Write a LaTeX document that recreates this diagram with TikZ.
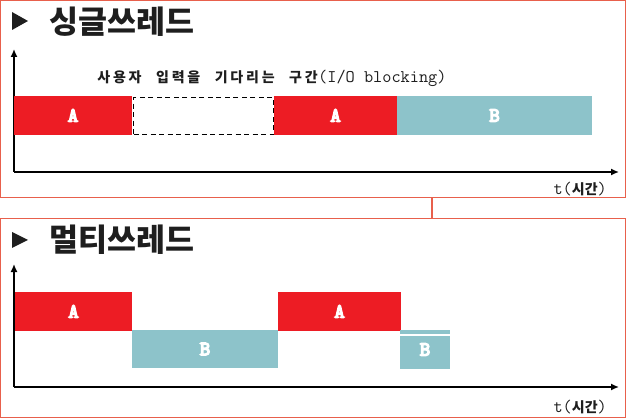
\documentclass[tikz,border=0pt]{standalone}
\usepackage{fontspec}
\usetikzlibrary{arrows.meta}
\newfontfamily\kr{Noto Sans CJK KR}
\newfontfamily\krsp{Noto Sans CJK KR}[LetterSpace=20]
\newfontfamily\courb{Latin Modern Mono}[FakeBold=7]
\definecolor{barred}{HTML}{ED1C24}
\definecolor{barteal}{HTML}{8DC3CA}
\definecolor{framec}{HTML}{E8604C}
\definecolor{ink}{HTML}{1E1E1E}
\tikzset{
  panel/.style={draw=framec, line width=1.4pt, inner sep=0, outer sep=0, anchor=north west},
  bar/.style={inner sep=0, outer sep=0, anchor=north west, text=white, font=\courb\fontsize{20}{20}\selectfont},
  axisline/.style={draw=black, line width=1.5pt, -{Latex[length=8pt,width=7pt]}},
  tri/.style={fill=ink},
  title/.style={anchor=west, inner sep=0, text=ink, font=\kr\bfseries\fontsize{31.5}{31.5}\selectfont},
  tlabel/.style={anchor=east, inner sep=0, text=ink}
}
\newcommand{\monotxt}{\ttfamily\mdseries\fontsize{17.8}{18}\selectfont}
\newcommand{\krtxt}[1]{\kr\bfseries\fontsize{#1}{#1}\selectfont}
\begin{document}
\begin{tikzpicture}[x=1pt,y=-1pt]
\useasboundingbox (0,0) rectangle (628,419);
% panels
\node[panel, minimum width=625pt, minimum height=197pt] (p1) at (0.7,0.7) {};
\node[panel, minimum width=625pt, minimum height=199pt] (p2) at (0.7,218.5) {};
\coordinate (c1) at (432,0);
\draw[framec, line width=1.4pt] (p1.south -| c1) -- (p2.north -| c1);

% ---- top panel ----
\fill[tri] (12,12) -- (28,21) -- (12,30) -- cycle;
\node[title] (t1) at (49,21.5) {싱글쓰레드};
\coordinate (o1) at (14,172);
\coordinate (y1) at (14,49);
\coordinate (x1) at (619,172);
\draw[axisline] (o1) -- (y1);
\draw[axisline] (o1) -- (x1);
\node[anchor=base west, inner sep=0, text=ink] (lblio) at (318,83) {\monotxt(I/O blocking)};
\node[anchor=base east, inner sep=0, text=ink] (lbl) at (lblio.base west)
  {\krsp\bfseries\fontsize{14}{14}\selectfont 사용자\hspace{14.5pt}입력을\hspace{14.5pt}기다리는\hspace{14.5pt}구간};
\node[bar, fill=barred, minimum width=118pt, minimum height=39pt] (a1) at (14,96) {A};
\node[anchor=north west, draw=black, dashed, dash pattern=on 5pt off 3.5pt, line width=1.3pt, minimum width=140pt, minimum height=37pt, inner sep=0] (io) at (133,97) {};
\node[bar, fill=barred, minimum width=123pt, minimum height=39pt] (a2) at (274,96) {A};
\node[bar, fill=barteal, minimum width=195pt, minimum height=39pt] (b1) at (397,96) {B};
\node[tlabel] (tl1) at (607,189) {\monotxt t(\krtxt{14}시간\monotxt)};

% ---- bottom panel ----
\fill[tri] (12,232) -- (28,240) -- (12,248) -- cycle;
\node[title] (t2) at (49,240) {멀티쓰레드};
\coordinate (o2) at (14,387);
\coordinate (y2) at (14,264);
\coordinate (x2) at (619,387);
\draw[axisline] (o2) -- (y2);
\draw[axisline] (o2) -- (x2);
\node[bar, fill=barred, minimum width=117pt, minimum height=39pt] (a3) at (15,292) {A};
\node[bar, fill=barteal, minimum width=146pt, minimum height=38pt] (b2) at (132,330) {B};
\node[bar, fill=barred, minimum width=123pt, minimum height=39pt] (a4) at (278,292) {A};
\node[bar, fill=barteal, minimum width=50pt, minimum height=39pt] (b3) at (400,330) {B};
\draw[white, line width=1.2pt] ([yshift=-5pt]b3.north west) -- ([yshift=-5pt]b3.north east);
\node[tlabel] (tl2) at (607,407) {\monotxt t(\krtxt{14}시간\monotxt)};
\end{tikzpicture}
\end{document}
